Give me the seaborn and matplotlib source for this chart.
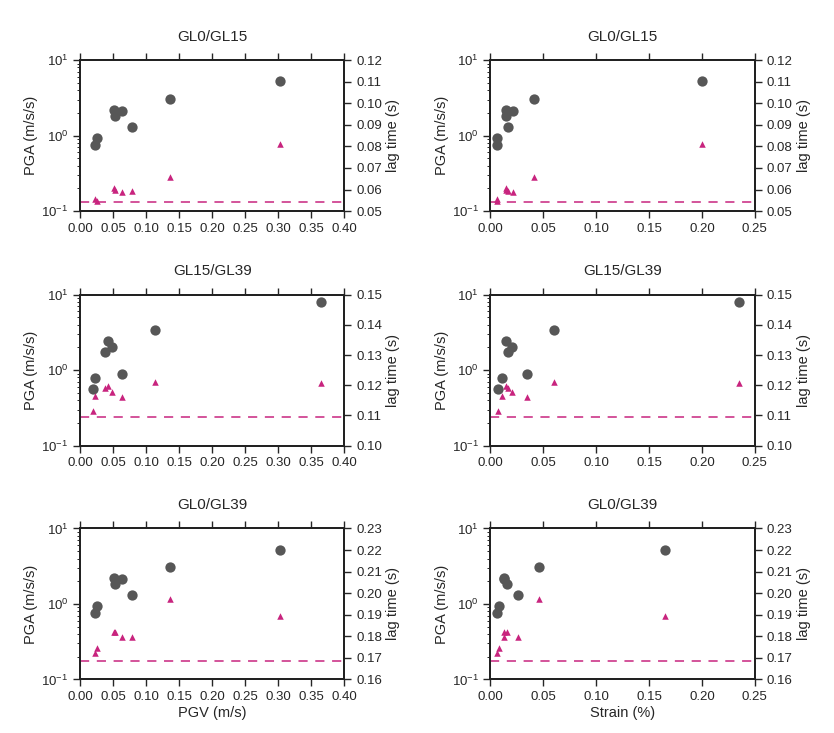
import numpy as np
import pandas as pd
import matplotlib
matplotlib.use("Agg")
import matplotlib.pyplot as plt
from matplotlib.ticker import FormatStrFormatter, MultipleLocator, LogLocator
import seaborn as sns

sns.set_style("ticks")
plt.rcParams["font.family"] = ["Liberation Sans", "DejaVu Sans"]

# ------------------------------------------------------------
# data (8 events per borehole pair)
# ------------------------------------------------------------
pairs = ["GL0/GL15", "GL15/GL39", "GL0/GL39"]

pgv_surface = [0.022, 0.026, 0.051, 0.053, 0.064, 0.078, 0.136, 0.302]
pga_surface = [0.75, 0.93, 2.20, 1.84, 2.14, 1.30, 3.09, 5.26]
pgv_gl15 = [0.019, 0.023, 0.037, 0.042, 0.048, 0.063, 0.113, 0.365]
pga_gl15 = [0.57, 0.79, 1.72, 2.40, 2.02, 0.885, 3.40, 8.07]

strain_gl0_gl15 = [0.006, 0.006, 0.015, 0.0148, 0.021, 0.0163, 0.0415, 0.1997]
strain_gl15_gl39 = [0.0069, 0.011, 0.017, 0.0148, 0.0204, 0.0343, 0.0604, 0.235]
strain_gl0_gl39 = [0.006, 0.0085, 0.0126, 0.0157, 0.013, 0.0258, 0.0462, 0.165]

lag_gl0_gl15 = [0.0557, 0.0549, 0.0608, 0.0598, 0.0587, 0.0593, 0.0660, 0.0810]
lag_gl15_gl39 = [0.1116, 0.1165, 0.1192, 0.1198, 0.1179, 0.1161, 0.1211, 0.1206]
lag_gl0_gl39 = [0.1721, 0.1747, 0.1822, 0.1819, 0.1799, 0.1799, 0.1974, 0.1896]

base_lag = [0.0542, 0.1095, 0.1686]
lag_limits = [(0.05, 0.12), (0.10, 0.15), (0.16, 0.23)]

pgv_sets = [pgv_surface, pgv_gl15, pgv_surface]
pga_sets = [pga_surface, pga_gl15, pga_surface]
strain_sets = [strain_gl0_gl15, strain_gl15_gl39, strain_gl0_gl39]
lag_sets = [lag_gl0_gl15, lag_gl15_gl39, lag_gl0_gl39]

# ------------------------------------------------------------
# layout
# ------------------------------------------------------------
fig = plt.figure(figsize=(8.34, 7.33), dpi=100)

col_left = [0.096, 0.588]
col_width = 0.317
row_bottom = [0.712, 0.392, 0.073]
row_height = 0.206

grey = "#575757"
pink = "#c8247e"


def draw_panel(ax, x, pga, lag, base, lims, xmax, title, xlabel):
    sns.scatterplot(x=x, y=pga, ax=ax, color=grey, s=55, marker="o",
                    edgecolor=grey, linewidth=0, zorder=3)
    ax.set_yscale("log")
    ax.set_ylim(0.1, 10)
    ax.set_xlim(0, xmax)
    ax.xaxis.set_major_locator(MultipleLocator(0.05))
    ax.xaxis.set_major_formatter(FormatStrFormatter("%.2f"))
    ax.yaxis.set_major_locator(LogLocator(base=10, numticks=5))
    ax.yaxis.set_minor_locator(LogLocator(base=10, subs=np.arange(2, 10), numticks=10))
    ax.set_ylabel("PGA (m/s/s)", fontsize=10.5, labelpad=2)
    ax.set_xlabel(xlabel, fontsize=10.5, labelpad=2)
    ax.set_title(title, fontsize=11, pad=14)
    ax.tick_params(axis="x", which="major", top=True, direction="out",
                   length=5, width=1, labelsize=9.5)
    ax.tick_params(axis="y", which="major", direction="out", length=5,
                   width=1, labelsize=9.5)
    ax.tick_params(axis="y", which="minor", direction="out", length=2.5, width=0.7)
    for sp in ax.spines.values():
        sp.set_linewidth(1.4)
        sp.set_color("#222222")

    ax2 = ax.twinx()
    sns.scatterplot(x=x, y=lag, ax=ax2, color=pink, s=22, marker="^",
                    edgecolor=pink, linewidth=0, zorder=3)
    ax2.axhline(base, color=pink, lw=1.1, ls=(0, (6, 5)), zorder=2)
    ax2.set_ylim(*lims)
    ax2.yaxis.set_major_locator(MultipleLocator(0.01))
    ax2.yaxis.set_major_formatter(FormatStrFormatter("%.2f"))
    ax2.set_ylabel("lag time (s)", fontsize=10.5, labelpad=3)
    ax2.tick_params(axis="y", direction="out", length=5, width=1, labelsize=9.5)
    for sp in ax2.spines.values():
        sp.set_linewidth(1.4)
        sp.set_color("#222222")
    ax.set_xlim(0, xmax)


for r in range(3):
    xlab_pgv = "PGV (m/s)" if r == 2 else ""
    xlab_str = "Strain (%)" if r == 2 else ""
    ax_a = fig.add_axes([col_left[0], row_bottom[r], col_width, row_height])
    draw_panel(ax_a, pgv_sets[r], pga_sets[r], lag_sets[r], base_lag[r],
               lag_limits[r], 0.40, pairs[r], xlab_pgv)
    ax_b = fig.add_axes([col_left[1], row_bottom[r], col_width, row_height])
    draw_panel(ax_b, strain_sets[r], pga_sets[r], lag_sets[r], base_lag[r],
               lag_limits[r], 0.25, pairs[r], xlab_str)

fig.savefig("out.png", dpi=100)
